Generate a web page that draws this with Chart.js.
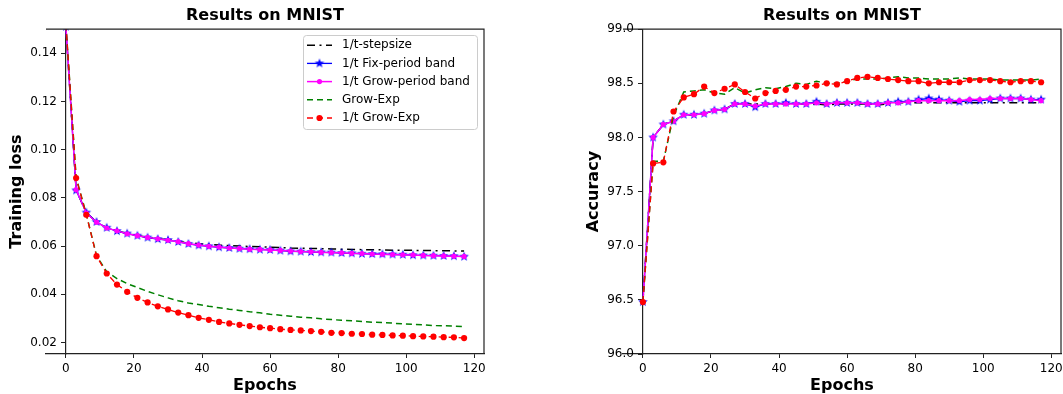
<!DOCTYPE html>
<html>
<head>
<meta charset="utf-8">
<script src="https://cdn.jsdelivr.net/npm/chart.js@4.4.0/dist/chart.umd.min.js"></script>
<style>
  html, body { margin: 0; padding: 0; background: #fff; overflow: hidden; width: 1063px; height: 394px; }
  #lossChart { position: absolute; left: 0; top: 0; }
  #accChart { position: absolute; left: 560px; top: 0; }
</style>
</head>
<body>
<canvas id="lossChart" width="500" height="394"></canvas>
<canvas id="accChart" width="520" height="394"></canvas>
<script>
// epochs where values were logged
const epochs = [0, 3, 6, 9, 12, 15, 18, 21, 24, 27, 30, 33, 36, 39, 42, 45, 48, 51, 54, 57,
                60, 63, 66, 69, 72, 75, 78, 81, 84, 87, 90, 93, 96, 99, 102, 105, 108, 111, 114, 117];

const seriesNames = ['1/t-stepsize', '1/t Fix-period band', '1/t Grow-period band', 'Grow-Exp', '1/t Grow-Exp'];

// training loss (left)
const lossStep = [0.151, 0.0833, 0.0738, 0.0700, 0.0676, 0.0663, 0.0652, 0.0644, 0.0636, 0.0630,
                  0.0626, 0.0619, 0.0614, 0.0610, 0.0607, 0.0604, 0.0602, 0.0600, 0.0598, 0.0597,
                  0.0595, 0.0594, 0.0592, 0.0591, 0.0590, 0.0589, 0.0588, 0.0587, 0.0586, 0.0585,
                  0.0585, 0.0584, 0.0583, 0.0583, 0.0582, 0.0582, 0.0581, 0.0581, 0.0580, 0.0579];
const lossFix = [0.151, 0.0831, 0.0739, 0.0700, 0.0676, 0.0662, 0.0652, 0.0643, 0.0635, 0.0629,
                 0.0625, 0.0617, 0.0609, 0.0603, 0.0599, 0.0595, 0.0592, 0.0589, 0.0587, 0.0585,
                 0.0584, 0.0581, 0.0578, 0.0577, 0.0575, 0.0574, 0.0573, 0.0571, 0.0570, 0.0568,
                 0.0567, 0.0566, 0.0565, 0.0564, 0.0562, 0.0561, 0.0560, 0.0559, 0.0558, 0.0556];
const lossGrowBand = [0.151, 0.0834, 0.0737, 0.0699, 0.0675, 0.0663, 0.0651, 0.0643, 0.0636, 0.0630,
                      0.0624, 0.0618, 0.0610, 0.0604, 0.0599, 0.0596, 0.0592, 0.0590, 0.0587, 0.0586,
                      0.0584, 0.0582, 0.0579, 0.0577, 0.0576, 0.0574, 0.0573, 0.0572, 0.0570, 0.0569,
                      0.0567, 0.0566, 0.0565, 0.0564, 0.0563, 0.0561, 0.0560, 0.0559, 0.0558, 0.0557];
const lossGrowExp = [0.152, 0.0885, 0.0732, 0.0560, 0.0493, 0.0465, 0.0444, 0.0428, 0.0412, 0.0398,
                     0.0385, 0.0373, 0.0364, 0.0357, 0.0350, 0.0344, 0.0338, 0.0333, 0.0327, 0.0323,
                     0.0317, 0.0313, 0.0309, 0.0305, 0.0302, 0.0298, 0.0295, 0.0292, 0.0290, 0.0287,
                     0.0284, 0.0283, 0.0280, 0.0277, 0.0275, 0.0273, 0.0270, 0.0269, 0.0268, 0.0265];
const lossTGrowExp = [0.152, 0.0882, 0.0730, 0.0558, 0.0486, 0.0440, 0.0410, 0.0385, 0.0366, 0.0350,
                      0.0337, 0.0324, 0.0313, 0.0302, 0.0294, 0.0285, 0.0279, 0.0273, 0.0268, 0.0263,
                      0.0259, 0.0255, 0.0252, 0.0250, 0.0247, 0.0244, 0.0240, 0.0239, 0.0236, 0.0235,
                      0.0232, 0.0231, 0.0229, 0.0228, 0.0226, 0.0225, 0.0224, 0.0222, 0.0221, 0.0218];

// test accuracy (right)
const accStep = [96.48, 98.00, 98.12, 98.15, 98.21, 98.21, 98.22, 98.25, 98.26, 98.31,
                 98.31, 98.31, 98.31, 98.31, 98.31, 98.31, 98.31, 98.31, 98.30, 98.31,
                 98.31, 98.31, 98.31, 98.30, 98.31, 98.32, 98.32, 98.32, 98.32, 98.32,
                 98.32, 98.32, 98.32, 98.32, 98.32, 98.32, 98.32, 98.32, 98.32, 98.32];
const accFix = [96.48, 98.00, 98.12, 98.15, 98.21, 98.21, 98.22, 98.25, 98.26, 98.31,
                98.31, 98.28, 98.31, 98.31, 98.32, 98.31, 98.31, 98.33, 98.31, 98.32,
                98.32, 98.32, 98.31, 98.31, 98.32, 98.33, 98.33, 98.35, 98.36, 98.35,
                98.34, 98.33, 98.34, 98.34, 98.35, 98.36, 98.36, 98.36, 98.35, 98.35];
const accGrowBand = [96.48, 98.00, 98.12, 98.15, 98.21, 98.21, 98.22, 98.25, 98.26, 98.31,
                     98.31, 98.29, 98.31, 98.31, 98.31, 98.31, 98.31, 98.32, 98.31, 98.32,
                     98.32, 98.32, 98.31, 98.31, 98.32, 98.32, 98.33, 98.34, 98.34, 98.34,
                     98.34, 98.34, 98.35, 98.35, 98.36, 98.36, 98.36, 98.36, 98.35, 98.34];
const accGrowExp = [96.48, 97.78, 97.78, 98.20, 98.42, 98.43, 98.44, 98.41, 98.40, 98.46,
                    98.41, 98.44, 98.46, 98.45, 98.47, 98.50, 98.49, 98.52, 98.50, 98.50,
                    98.52, 98.54, 98.54, 98.54, 98.55, 98.56, 98.55, 98.55, 98.54, 98.54,
                    98.54, 98.55, 98.54, 98.54, 98.54, 98.53, 98.53, 98.53, 98.53, 98.54];
const accTGrowExp = [96.48, 97.76, 97.77, 98.24, 98.37, 98.40, 98.47, 98.41, 98.45, 98.49,
                     98.42, 98.36, 98.41, 98.43, 98.44, 98.47, 98.47, 98.48, 98.50, 98.49,
                     98.52, 98.55, 98.56, 98.55, 98.54, 98.53, 98.52, 98.52, 98.50, 98.51,
                     98.51, 98.51, 98.53, 98.53, 98.53, 98.52, 98.51, 98.52, 98.52, 98.51];

const lossTicks = [0.02, 0.04, 0.06, 0.08, 0.10, 0.12, 0.14];
const accTicks = [96.0, 96.5, 97.0, 97.5, 98.0, 98.5, 99.0];
const epochTicks = [0, 20, 40, 60, 80, 100, 120];

const FONT = '"DejaVu Sans", Verdana, sans-serif';
const AXIS = '#222';

// filled star like matplotlib '*'
function makeStar(color, r) {
  const c = document.createElement('canvas');
  const s = Math.ceil(r * 2 + 2);
  c.width = s; c.height = s;
  const g = c.getContext('2d');
  g.beginPath();
  for (let i = 0; i < 10; i++) {
    const rr = i % 2 ? r * 0.42 : r;
    const a = -Math.PI / 2 + i * Math.PI / 5;
    g.lineTo(s / 2 + rr * Math.cos(a), s / 2 + rr * Math.sin(a));
  }
  g.closePath();
  g.fillStyle = color;
  g.fill();
  return c;
}
const blueStar = makeStar('#0000ff', 5);

function pts(vals) {
  return epochs.map((e, i) => ({ x: e, y: vals[i] }));
}

function makeDatasets(a, b, c, d, e) {
  return [
    { label: seriesNames[0], data: pts(a), borderColor: '#000000', backgroundColor: '#000000',
      borderWidth: 1.5, borderDash: [8, 4.5, 2, 4.5], pointRadius: 0, order: 5 },
    { label: seriesNames[1], data: pts(b), borderColor: '#0000ff', backgroundColor: '#0000ff',
      borderWidth: 1.3, pointStyle: blueStar, pointRadius: 5, order: 4 },
    { label: seriesNames[2], data: pts(c), borderColor: '#ff00ff', backgroundColor: '#ff00ff',
      borderWidth: 1.5, pointStyle: 'circle', pointRadius: 2.6, pointBorderWidth: 0, order: 3 },
    { label: seriesNames[3], data: pts(d), borderColor: '#008000', backgroundColor: '#008000',
      borderWidth: 1.5, borderDash: [6, 4], pointRadius: 0, order: 2 },
    { label: seriesNames[4], data: pts(e), borderColor: '#ff0000', backgroundColor: '#ff0000',
      borderWidth: 1.3, borderDash: [6, 4], pointStyle: 'circle', pointRadius: 3.1, pointBorderWidth: 0, order: 1 }
  ];
}

// top + right spines
const framePlugin = {
  id: 'frame',
  afterDraw(chart) {
    const { ctx, chartArea: a } = chart;
    ctx.save();
    ctx.strokeStyle = AXIS;
    ctx.lineWidth = 1.2;
    ctx.beginPath();
    ctx.moveTo(a.left, a.top);
    ctx.lineTo(a.right, a.top);
    ctx.lineTo(a.right, a.bottom);
    ctx.stroke();
    ctx.restore();
  }
};

// y tick labels next to the spine at x = 0, plus rotated y-axis title
const yAxisTextPlugin = {
  id: 'yText',
  afterDraw(chart, args, opts) {
    const { ctx, chartArea: a } = chart;
    const xs = chart.scales.x, ys = chart.scales.y;
    const spine = xs.getPixelForValue(0);
    ctx.save();
    ctx.fillStyle = '#000';
    ctx.font = '12px ' + FONT;
    ctx.textAlign = 'right';
    ctx.textBaseline = 'middle';
    ys.ticks.forEach(t => {
      ctx.fillText(t.value.toFixed(opts.dec), spine - 9, ys.getPixelForValue(t.value));
    });
    ctx.translate(opts.x, (a.top + a.bottom) / 2);
    ctx.rotate(-Math.PI / 2);
    ctx.font = 'bold 16px ' + FONT;
    ctx.textAlign = 'center';
    ctx.fillText(opts.text, 0, 0);
    ctx.restore();
  }
};

// matplotlib style legend box (line sample + marker)
const legendPlugin = {
  id: 'mplLegend',
  afterDraw(chart, args, opts) {
    if (!opts.show) return;
    const { ctx, chartArea: a } = chart;
    const w = 174, h = 94;
    const x0 = a.right - 7 - w, y0 = a.top + 6;
    ctx.save();
    ctx.fillStyle = 'rgba(255,255,255,0.85)';
    ctx.strokeStyle = '#cccccc';
    ctx.lineWidth = 1;
    ctx.beginPath();
    ctx.roundRect(Math.round(x0) + 0.5, Math.round(y0) + 0.5, w, h, 3);
    ctx.fill();
    ctx.stroke();
    chart.data.datasets.forEach((ds, i) => {
      const yy = y0 + 10 + i * 18.2;
      const lx1 = x0 + 4, lx2 = x0 + 29, mx = (lx1 + lx2) / 2;
      ctx.strokeStyle = ds.borderColor;
      ctx.lineWidth = ds.borderWidth;
      ctx.setLineDash(ds.borderDash || []);
      ctx.beginPath();
      ctx.moveTo(lx1, yy);
      ctx.lineTo(lx2, yy);
      ctx.stroke();
      ctx.setLineDash([]);
      if (ds.pointRadius > 0) {
        if (ds.pointStyle instanceof HTMLCanvasElement) {
          ctx.drawImage(ds.pointStyle, mx - ds.pointStyle.width / 2, yy - ds.pointStyle.height / 2);
        } else {
          ctx.fillStyle = ds.backgroundColor;
          ctx.beginPath();
          ctx.arc(mx, yy, ds.pointRadius, 0, Math.PI * 2);
          ctx.fill();
        }
      }
      ctx.fillStyle = '#000';
      ctx.font = '12px ' + FONT;
      ctx.textAlign = 'left';
      ctx.textBaseline = 'middle';
      ctx.fillText(ds.label, x0 + 39, yy);
    });
    ctx.restore();
  }
};

function makeChart(id, datasets, yMin, yMax, yTicks, dec, yTitle, yTitleX, padLeft, padRight, showLegend) {
  return new Chart(document.getElementById(id).getContext('2d'), {
    type: 'line',
    data: { datasets: datasets },
    options: {
      responsive: false,
      animation: false,
      events: [],
      layout: { padding: { left: padLeft, right: padRight, top: 0, bottom: 0 } },
      elements: { line: { tension: 0, fill: false } },
      plugins: {
        legend: { display: false },
        tooltip: { enabled: false },
        title: {
          display: true, text: 'Results on MNIST', color: '#000',
          font: { family: FONT, size: 16, weight: 'bold', lineHeight: 1.2 },
          padding: { top: 6, bottom: 4 }
        },
        yText: { text: yTitle, x: yTitleX, dec: dec },
        mplLegend: { show: showLegend }
      },
      scales: {
        x: {
          type: 'linear', min: -5.85, max: 122.85,
          afterFit: s => { s.height = 40; },
          afterBuildTicks: s => { s.ticks = epochTicks.map(v => ({ value: v })); },
          ticks: { color: '#000', font: { family: FONT, size: 12 }, padding: 4, maxRotation: 0 },
          grid: { display: true, drawOnChartArea: false, drawTicks: true, tickLength: 4, color: AXIS, tickColor: AXIS },
          border: { display: true, color: AXIS, width: 1.2 },
          title: { display: true, text: 'Epochs', color: '#000',
                   font: { family: FONT, size: 16, weight: 'bold', lineHeight: 1 },
                   padding: { top: 0, bottom: 0 } }
        },
        y: {
          type: 'linear', min: yMin, max: yMax, position: { x: 0 },
          afterBuildTicks: s => { s.ticks = yTicks.map(v => ({ value: v })); },
          ticks: { display: false },
          grid: { display: true, drawOnChartArea: false, drawTicks: true, tickLength: 4, color: AXIS, tickColor: AXIS },
          border: { display: true, color: AXIS, width: 1.2 }
        }
      }
    },
    plugins: [framePlugin, yAxisTextPlugin, legendPlugin]
  });
}

makeChart('lossChart', makeDatasets(lossStep, lossFix, lossGrowBand, lossGrowExp, lossTGrowExp),
          0.0152, 0.15, lossTicks, 2, 'Training loss', 17, 46, 16, true);
makeChart('accChart', makeDatasets(accStep, accFix, accGrowBand, accGrowExp, accTGrowExp),
          96, 99, accTicks, 1, 'Accuracy', 34, 63, 19, false);
</script>
</body>
</html>
